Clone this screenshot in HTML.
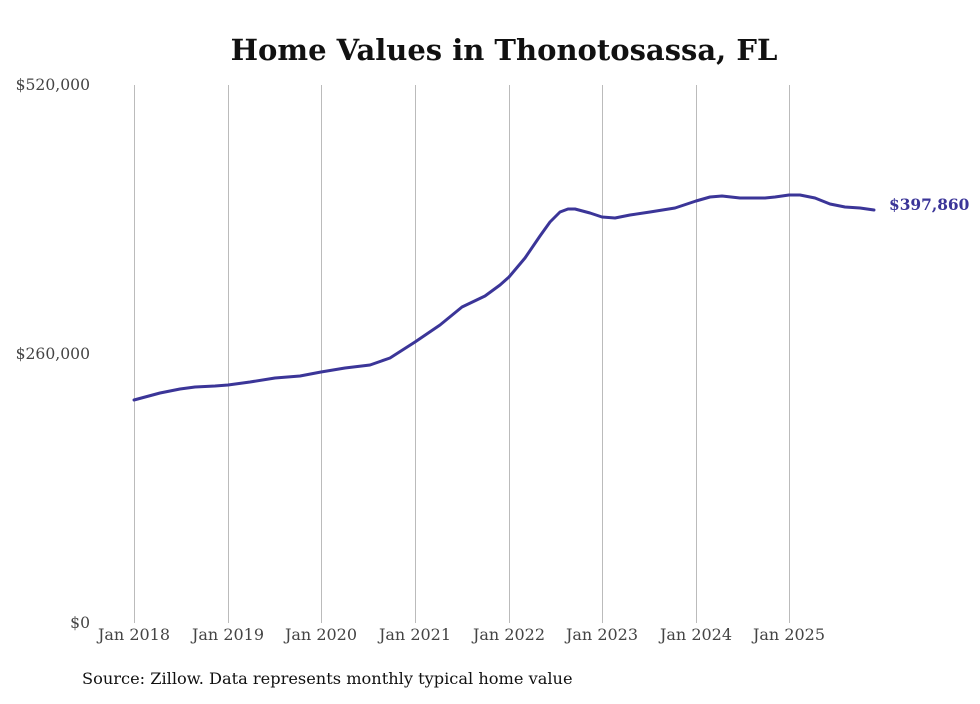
<!DOCTYPE html>
<html><head><meta charset="utf-8"><style>body{margin:0;background:#fff}</style></head><body>
<svg width="980" height="699" xmlns="http://www.w3.org/2000/svg" font-family="DejaVu Serif, serif">
<rect width="980" height="699" fill="#fff"/>
<text x="504" y="60" text-anchor="middle" font-size="29" font-weight="bold" fill="#111">Home Values in Thonotosassa, FL</text>
<g stroke="#bbb" stroke-width="1">
<line x1="134.5" y1="85" x2="134.5" y2="623"/><line x1="228.5" y1="85" x2="228.5" y2="623"/>
<line x1="321.5" y1="85" x2="321.5" y2="623"/><line x1="415.5" y1="85" x2="415.5" y2="623"/>
<line x1="509.5" y1="85" x2="509.5" y2="623"/><line x1="602.5" y1="85" x2="602.5" y2="623"/>
<line x1="696.5" y1="85" x2="696.5" y2="623"/><line x1="789.5" y1="85" x2="789.5" y2="623"/>
</g>
<g font-size="15.6" fill="#444" text-anchor="end">
<text x="90" y="90">$520,000</text><text x="90" y="359">$260,000</text><text x="90" y="628">$0</text>
</g>
<g font-size="16" fill="#444" text-anchor="middle">
<text x="134" y="640">Jan 2018</text><text x="228" y="640">Jan 2019</text><text x="321" y="640">Jan 2020</text><text x="415" y="640">Jan 2021</text>
<text x="509" y="640">Jan 2022</text><text x="602" y="640">Jan 2023</text><text x="696" y="640">Jan 2024</text><text x="789" y="640">Jan 2025</text>
</g>
<polyline fill="none" stroke="#3b3598" stroke-width="3" stroke-linejoin="round" stroke-linecap="round" points="134,400 160,393 180,389 195,387 215,386 228,385 250,382 275,378 300,376 321,372 345,368 370,365 390,358 415,342 440,325 462,307 485,296 500,285 509,277 525,258 540,236 550,222 560,212 568,209 575,209 590,213 602,217 615,218 630,215 650,212 675,208 696,201 710,197 722,196 740,198 765,198 775,197 789,195 800,195 815,198 830,204 845,207 860,208 874,210"/>
<text x="889" y="210" font-size="15.4" font-weight="bold" fill="#3b3598">$397,860</text>
<text x="82" y="684" font-size="16.2" fill="#111">Source: Zillow. Data represents monthly typical home value</text>
</svg>
</body></html>
